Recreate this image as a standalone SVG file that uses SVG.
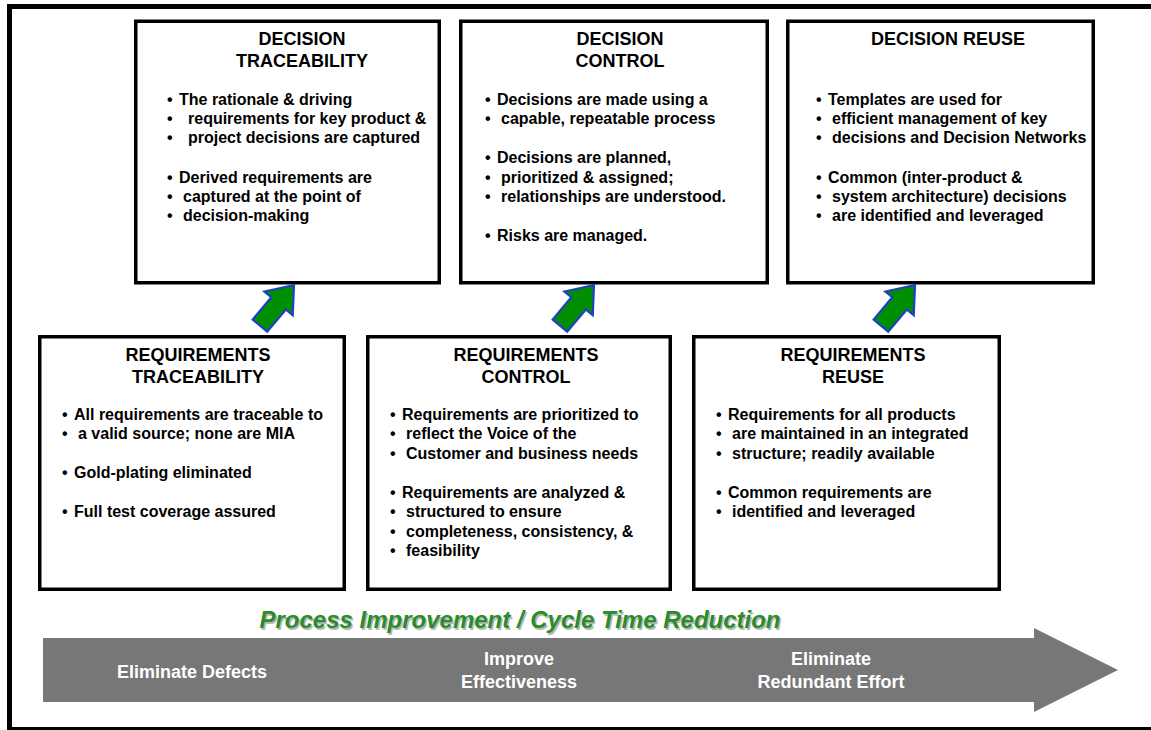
<svg xmlns="http://www.w3.org/2000/svg" width="1151" height="730" viewBox="0 0 1151 730">
<style>
.box{fill:#fff;stroke:#000;stroke-width:3.5}
.t{font-family:"Liberation Sans",Arial,sans-serif;font-weight:bold;font-size:18px;fill:#000;text-anchor:middle}
.b{font-family:"Liberation Sans",Arial,sans-serif;font-weight:bold;font-size:16px;fill:#000}
.ga{fill:#008f00;stroke:#1f3fc4;stroke-width:2.2;stroke-linejoin:miter}
.w{font-family:"Liberation Sans",Arial,sans-serif;font-weight:bold;font-size:18px;fill:#fff;text-anchor:middle}
.pi{font-family:"Liberation Sans",Arial,sans-serif;font-weight:bold;font-style:italic;font-size:24px;text-anchor:middle}
</style>
<defs>
<polygon id="garrow" points="0,0 -24,-18.5 -24,-9.5 -53,-9.5 -53,9.5 -24,9.5 -24,18.5"/>
</defs>
<rect width="1151" height="730" fill="#fff"/>
<g id="frame">
<path d="M9.5,730 V6.5 H1151" fill="none" stroke="#000" stroke-width="5"/>
<line x1="7" y1="728.5" x2="1151" y2="728.5" stroke="#000" stroke-width="3"/>
</g>

<g id="decision-traceability">
<rect class="box" x="135.75" y="21.25" width="303.5" height="261.5"/>
<text class="t" x="302" y="45">DECISION</text>
<text class="t" x="302" y="67">TRACEABILITY</text>
<text class="b"><tspan x="167" y="105">•</tspan><tspan x="179">The rationale &amp; driving</tspan></text>
<text class="b"><tspan x="167" y="124">•</tspan><tspan x="188">requirements for key product &amp;</tspan></text>
<text class="b"><tspan x="167" y="143">•</tspan><tspan x="188">project decisions are captured</tspan></text>
<text class="b"><tspan x="167" y="183">•</tspan><tspan x="179">Derived requirements are</tspan></text>
<text class="b"><tspan x="167" y="202">•</tspan><tspan x="183">captured at the point of</tspan></text>
<text class="b"><tspan x="167" y="221">•</tspan><tspan x="183">decision-making</tspan></text>
</g>

<g id="decision-control">
<rect class="box" x="460.75" y="21.25" width="306.5" height="261.5"/>
<text class="t" x="620" y="45">DECISION</text>
<text class="t" x="620" y="67">CONTROL</text>
<text class="b"><tspan x="485" y="105">•</tspan><tspan x="497">Decisions are made using a</tspan></text>
<text class="b"><tspan x="485" y="124">•</tspan><tspan x="501">capable, repeatable process</tspan></text>
<text class="b"><tspan x="485" y="163">•</tspan><tspan x="497">Decisions are planned,</tspan></text>
<text class="b"><tspan x="485" y="183">•</tspan><tspan x="501">prioritized &amp; assigned;</tspan></text>
<text class="b"><tspan x="485" y="202">•</tspan><tspan x="501">relationships are understood.</tspan></text>
<text class="b"><tspan x="485" y="241">•</tspan><tspan x="497">Risks are managed.</tspan></text>
</g>

<g id="decision-reuse">
<rect class="box" x="787.75" y="21.25" width="305.5" height="261.5"/>
<text class="t" x="948" y="45">DECISION REUSE</text>
<text class="b"><tspan x="816" y="105">•</tspan><tspan x="828">Templates are used for</tspan></text>
<text class="b"><tspan x="816" y="124">•</tspan><tspan x="832">efficient management of key</tspan></text>
<text class="b"><tspan x="816" y="143">•</tspan><tspan x="832">decisions and Decision Networks</tspan></text>
<text class="b"><tspan x="816" y="183">•</tspan><tspan x="828">Common (inter-product &amp;</tspan></text>
<text class="b"><tspan x="816" y="202">•</tspan><tspan x="832">system architecture) decisions</tspan></text>
<text class="b"><tspan x="816" y="221">•</tspan><tspan x="832">are identified and leveraged</tspan></text>
</g>

<g id="requirements-traceability">
<rect class="box" x="39.75" y="336.75" width="304.5" height="252.5"/>
<text class="t" x="198" y="361">REQUIREMENTS</text>
<text class="t" x="198" y="383">TRACEABILITY</text>
<text class="b"><tspan x="62" y="420">•</tspan><tspan x="74">All requirements are traceable to</tspan></text>
<text class="b"><tspan x="62" y="439">•</tspan><tspan x="78">a valid source; none are MIA</tspan></text>
<text class="b"><tspan x="62" y="478">•</tspan><tspan x="74">Gold-plating eliminated</tspan></text>
<text class="b"><tspan x="62" y="517">•</tspan><tspan x="74">Full test coverage assured</tspan></text>
</g>

<g id="requirements-control">
<rect class="box" x="367.75" y="336.75" width="302.5" height="252.5"/>
<text class="t" x="526" y="361">REQUIREMENTS</text>
<text class="t" x="526" y="383">CONTROL</text>
<text class="b"><tspan x="390" y="420">•</tspan><tspan x="402">Requirements are prioritized to</tspan></text>
<text class="b"><tspan x="390" y="439">•</tspan><tspan x="406">reflect the Voice of the</tspan></text>
<text class="b"><tspan x="390" y="459">•</tspan><tspan x="406">Customer and business needs</tspan></text>
<text class="b"><tspan x="390" y="498">•</tspan><tspan x="402">Requirements are analyzed &amp;</tspan></text>
<text class="b"><tspan x="390" y="517">•</tspan><tspan x="406">structured to ensure</tspan></text>
<text class="b"><tspan x="390" y="537">•</tspan><tspan x="406">completeness, consistency, &amp;</tspan></text>
<text class="b"><tspan x="390" y="556">•</tspan><tspan x="406">feasibility</tspan></text>
</g>

<g id="requirements-reuse">
<rect class="box" x="693.75" y="336.75" width="305.5" height="252.5"/>
<text class="t" x="853" y="361">REQUIREMENTS</text>
<text class="t" x="853" y="383">REUSE</text>
<text class="b"><tspan x="716" y="420">•</tspan><tspan x="728">Requirements for all products</tspan></text>
<text class="b"><tspan x="716" y="439">•</tspan><tspan x="732">are maintained in an integrated</tspan></text>
<text class="b"><tspan x="716" y="459">•</tspan><tspan x="732">structure; readily available</tspan></text>
<text class="b"><tspan x="716" y="498">•</tspan><tspan x="728">Common requirements are</tspan></text>
<text class="b"><tspan x="716" y="517">•</tspan><tspan x="732">identified and leveraged</tspan></text>
</g>

<g id="connectors">
<use href="#garrow" class="ga" transform="translate(294,285) rotate(-50)"/>
<use href="#garrow" class="ga" transform="translate(594,285) rotate(-50)"/>
<use href="#garrow" class="ga" transform="translate(915,285) rotate(-50)"/>
</g>

<g id="progress-arrow">
<polygon points="43,638 1034,638 1034,628 1118,670 1034,712 1034,702 43,702" fill="#777777"/>
<text class="pi" x="521.5" y="629.5" fill="#b8b8b8">Process Improvement / Cycle Time Reduction</text>
<text class="pi" x="520" y="628" fill="#2a8c2a">Process Improvement / Cycle Time Reduction</text>
<text class="w" x="192" y="678">Eliminate Defects</text>
<text class="w" x="519" y="665">Improve</text>
<text class="w" x="519" y="688">Effectiveness</text>
<text class="w" x="831" y="665">Eliminate</text>
<text class="w" x="831" y="688">Redundant Effort</text>
</g>
</svg>
